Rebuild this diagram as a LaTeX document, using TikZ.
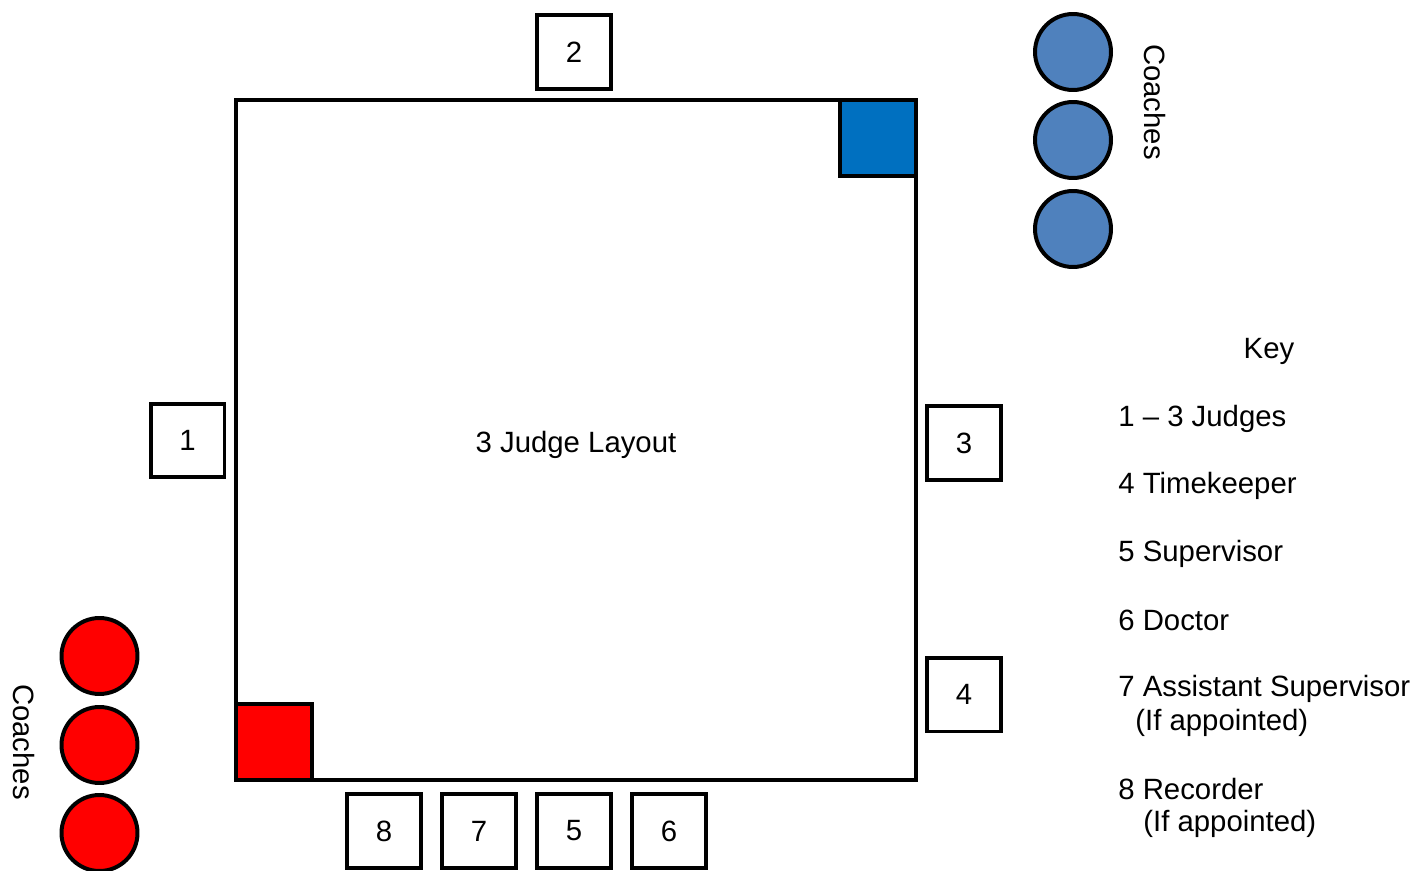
\documentclass[tikz,border=0pt]{standalone}
\usepackage{fontspec}
\setmainfont{Liberation Sans}
\usetikzlibrary{positioning}

\definecolor{coachblue}{HTML}{4F81BD}
\definecolor{cornerblue}{HTML}{0070C0}
\tikzset{
  official/.style={draw, line width=2.27pt, minimum size=1.48cm, inner sep=0pt},
  coach/.style={circle, draw, line width=2.27pt, minimum size=1.52cm, inner sep=0pt},
  keyitem/.style={anchor=west, inner sep=0pt}
}

\begin{document}
\begin{tikzpicture}[x=0.02cm, y=-0.02cm, font=\fontsize{16.7}{20}\selectfont]
\useasboundingbox (0,0) rectangle (1416,871);
% mat and corners
\draw[line width=2.27pt] (236,100) rectangle (916,780);
\draw[line width=2.27pt, fill=cornerblue] (840,100) rectangle (916,176);
\draw[line width=2.27pt, fill=red] (236,704) rectangle (312,780);
\node (title) at (576,445) {3 Judge Layout};
% officials
\node[official] (j1) at (187.5,440.5) {1};
\node[official] (j2) at (574,52) {2};
\node[official] (j3) at (964,443) {3};
\node[official] (tk) at (964,694.5) {4};
\node[official] (rec) at (384,831) {8};
\node[official] (asup) at (479,831) {7};
\node[official] (sup) at (574,831) {5};
\node[official] (doc) at (669,831) {6};
% coaches
\foreach \y/\n in {52/1, 140/2, 229/3}
  \node[coach, fill=coachblue] (bc\n) at (1073,\y) {};
\foreach \y/\n in {656/1, 745/2, 833/3}
  \node[coach, fill=red] (rc\n) at (99.5,\y) {};
\node[rotate=-90] (bcl) at (1155,102) {Coaches};
\node[rotate=-90] (rcl) at (24,742) {Coaches};
% key
\node (key) at (1269,351) {Key};
\node[keyitem] (k1) at (1118,419) {1 -- 3 Judges};
\node[keyitem] (k4) at (1118,486) {4 Timekeeper};
\node[keyitem] (k5) at (1118,554) {5 Supervisor};
\node[keyitem] (k6) at (1118,620) {6 Doctor};
\node[keyitem] (k7) at (1118,689) {7 Assistant Supervisor};
\node[keyitem] (k7b) at (1135,723) {(If appointed)};
\node[keyitem] (k8) at (1118,789) {8 Recorder};
\node[keyitem] (k8b) at (1143,824) {(If appointed)};
\end{tikzpicture}
\end{document}
